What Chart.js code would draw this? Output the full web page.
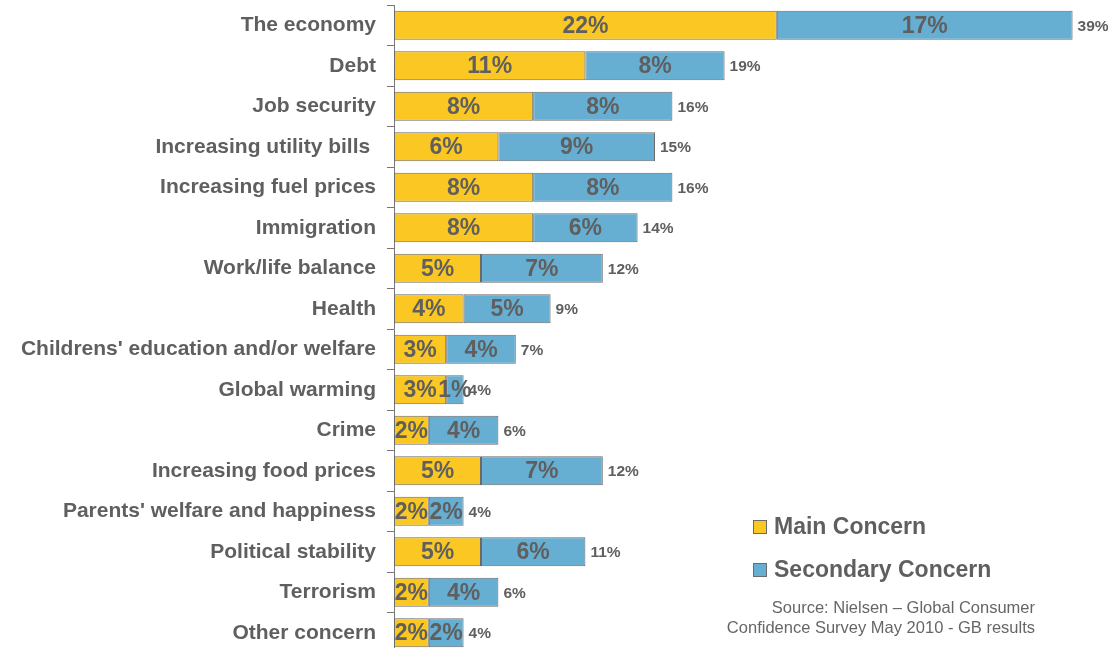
<!DOCTYPE html>
<html>
<head>
<meta charset="utf-8">
<script src="https://cdn.jsdelivr.net/npm/chart.js@4/dist/chart.umd.min.js"></script>
<style>
  html, body { margin: 0; padding: 0; background: #fff; overflow: hidden; }
  #wrap { width: 1115px; height: 653px; position: relative; }
</style>
</head>
<body>
<div id="wrap"><canvas id="c"></canvas></div>
<script>
const categories = [
  "The economy", "Debt", "Job security", "Increasing utility bills ",
  "Increasing fuel prices", "Immigration", "Work/life balance", "Health",
  "Childrens' education and/or welfare", "Global warming", "Crime",
  "Increasing food prices", "Parents' welfare and happiness",
  "Political stability", "Terrorism", "Other concern"
];
const mainConcern      = [22, 11, 8, 6, 8, 8, 5, 4, 3, 3, 2, 5, 2, 5, 2, 2];
const secondaryConcern = [17,  8, 8, 9, 8, 6, 7, 5, 4, 1, 4, 7, 2, 6, 4, 2];
const totalLabels      = ["39%","19%","16%","15%","16%","14%","12%","9%","7%","4%","6%","12%","4%","11%","6%","4%"];
const seriesNames = ["Main Concern", "Secondary Concern"];
const sourceLines = ["Source: Nielsen \u2013 Global Consumer", "Confidence Survey May 2010 - GB results"];

const FONT = '"Liberation Sans", Arial, sans-serif';
const TEXT = '#5f5f5f';
const YELLOW = '#FAC723';
const BLUE = '#67AFD2';
const EDGE = '#6a6a6a';

const labelPlugin = {
  id: 'labels',
  afterDatasetsDraw(chart) {
    const ctx = chart.ctx;
    ctx.save();
    ctx.fillStyle = TEXT;
    ctx.textBaseline = 'middle';
    chart.data.datasets.forEach((ds, di) => {
      const meta = chart.getDatasetMeta(di);
      meta.data.forEach((bar, i) => {
        const cx = (bar.x + bar.base) / 2;
        ctx.font = 'bold 23px ' + FONT;
        ctx.textAlign = 'center';
        ctx.fillText(ds.data[i] + '%', cx, bar.y + 1);
      });
    });
    const last = chart.getDatasetMeta(chart.data.datasets.length - 1);
    last.data.forEach((bar, i) => {
      ctx.font = 'bold 15.5px ' + FONT;
      ctx.textAlign = 'left';
      ctx.fillText(totalLabels[i], bar.x + 5, bar.y + 1);
    });
    ctx.restore();
  }
};

const legendPlugin = {
  id: 'customLegend',
  afterDraw(chart) {
    const ctx = chart.ctx;
    ctx.save();
    const rows = [527, 570];
    chart.data.datasets.forEach((ds, di) => {
      const y = rows[di];
      ctx.fillStyle = ds.backgroundColor;
      ctx.fillRect(753.5, y - 6.5, 13, 13);
      ctx.strokeStyle = EDGE;
      ctx.lineWidth = 1;
      ctx.strokeRect(753.5, y - 6.5, 13, 13);
      ctx.fillStyle = TEXT;
      ctx.font = 'bold 23px ' + FONT;
      ctx.textAlign = 'left';
      ctx.textBaseline = 'middle';
      ctx.fillText(ds.label, 774, y + 1);
    });
    ctx.font = '16.5px ' + FONT;
    ctx.fillStyle = '#666666';
    ctx.textAlign = 'right';
    ctx.textBaseline = 'middle';
    ctx.fillText(sourceLines[0], 1035, 608);
    ctx.fillText(sourceLines[1], 1035, 628);
    ctx.restore();
  }
};

new Chart(document.getElementById('c'), {
  type: 'bar',
  data: {
    labels: categories,
    datasets: [
      { label: seriesNames[0], data: mainConcern, backgroundColor: YELLOW,
        borderColor: EDGE, borderWidth: 1, borderSkipped: false },
      { label: seriesNames[1], data: secondaryConcern, backgroundColor: BLUE,
        borderColor: EDGE, borderWidth: 1, borderSkipped: false }
    ]
  },
  options: {
    indexAxis: 'y',
    responsive: true,
    maintainAspectRatio: false,
    animation: false,
    layout: { autoPadding: false, padding: { left: 0, right: 25, top: 5, bottom: 0 } },
    datasets: { bar: { barPercentage: 0.71, categoryPercentage: 1 } },
    plugins: { legend: { display: false }, tooltip: { enabled: false } },
    scales: {
      x: { stacked: true, min: 0, max: 40, display: false },
      y: {
        stacked: true,
        afterFit(scale) { scale.width = 394; scale.paddingTop = 0; scale.paddingBottom = 0; },
        grid: { offset: true, drawOnChartArea: false, drawTicks: true, tickLength: 7, color: '#777777' },
        border: { display: true, color: '#777777', width: 1 },
        ticks: { color: TEXT, padding: 11, font: { family: FONT, size: 21, weight: 'bold' } }
      }
    }
  },
  plugins: [labelPlugin, legendPlugin]
});
</script>
</body>
</html>
